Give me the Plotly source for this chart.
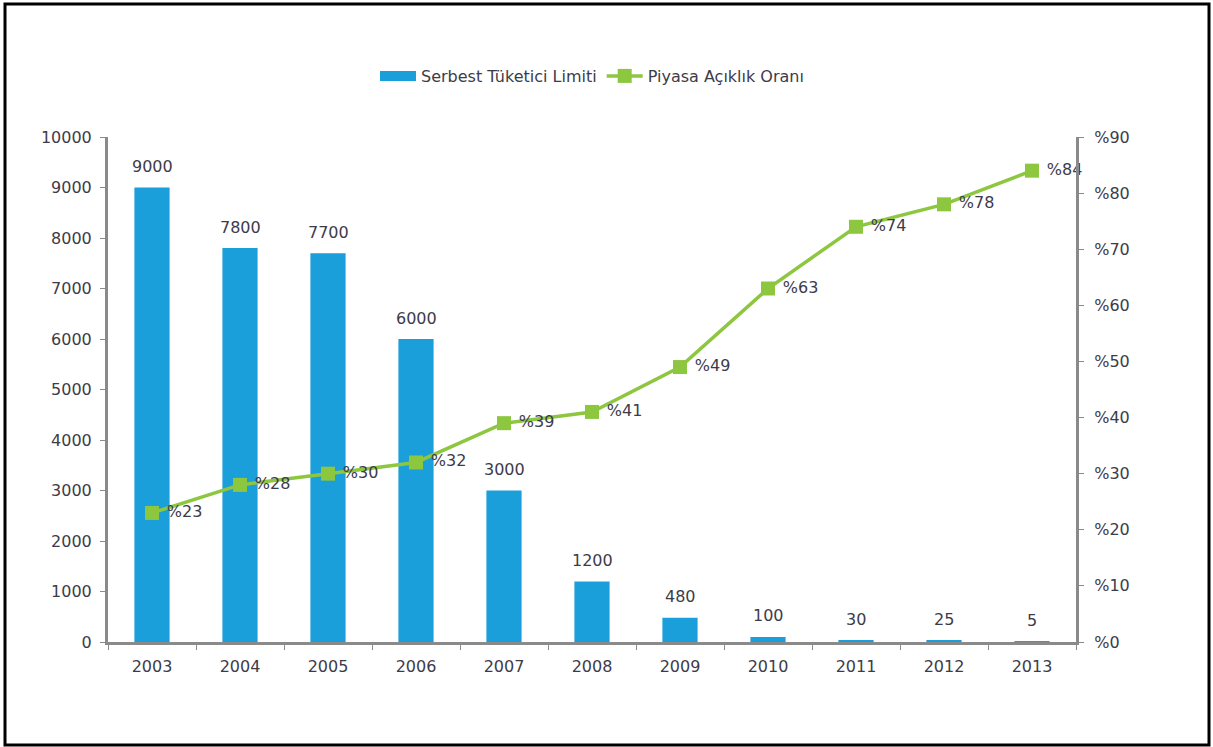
import plotly.graph_objects as go

years = ["2003", "2004", "2005", "2006", "2007", "2008", "2009", "2010", "2011", "2012", "2013"]
limit_values = [9000, 7800, 7700, 6000, 3000, 1200, 480, 100, 30, 25, 5]
openness_pct = [23, 28, 30, 32, 39, 41, 49, 63, 74, 78, 84]
bar_name = "Serbest Tüketici Limiti"
line_name = "Piyasa Açıklık Oranı"

FONT = "DejaVu Sans, Verdana, sans-serif"
TXT = "#3d3b4a"
AX = "#8a8a8a"
BLUE = "#1a9fda"
GREEN = "#8dc63f"
FS = 16

fig = go.Figure()
fig.add_trace(go.Bar(
    x=years, y=limit_values, name=bar_name, showlegend=False,
    marker=dict(color=BLUE, line=dict(width=0)),
    width=0.4,
))
# legend entry for bars drawn as a wide block like the reference
fig.add_trace(go.Scatter(
    x=[None], y=[None], name=bar_name, mode="lines",
    line=dict(color=BLUE, width=12),
))
fig.add_trace(go.Scatter(
    x=years, y=openness_pct, name=line_name, yaxis="y2",
    mode="lines+markers+text",
    line=dict(color=GREEN, width=3.5),
    marker=dict(symbol="square", size=14, color=GREEN),
    text=[f" %{v}" for v in openness_pct],
    textposition="middle right",
    cliponaxis=False,
    textfont=dict(family=FONT, size=FS, color=TXT),
))

for i, v in enumerate(limit_values):
    fig.add_annotation(x=i, xref="x", y=v, yref="y", text=str(v), showarrow=False,
                       yshift=21, font=dict(family=FONT, size=FS, color=TXT))

# outer frame
fig.add_shape(type="rect", xref="paper", yref="paper",
              x0=(5 - 108) / 968, x1=(1209 - 108) / 968,
              y0=(642 - 745) / 505, y1=(642 - 4) / 505,
              line=dict(color="black", width=3), fillcolor="rgba(0,0,0,0)", layer="below")

fig.update_layout(
    width=1213, height=747,
    margin=dict(l=108, r=137, t=137, b=105),
    paper_bgcolor="white", plot_bgcolor="white",
    font=dict(family=FONT, size=FS, color=TXT),
    showlegend=True,
    legend=dict(orientation="h", x=0.5, xanchor="center", y=(642 - 76) / 505, yanchor="middle",
                font=dict(family=FONT, size=16, color=TXT), itemwidth=36),
    xaxis=dict(type="category", range=[-0.5, len(years) - 0.5], showline=True, linecolor=AX, linewidth=3,
               ticks="outside", tickson="boundaries", ticklen=5, tickcolor=AX, tickwidth=1,
               ticklabelstandoff=8,
               showgrid=False, tickangle=0, tickfont=dict(family=FONT, size=FS, color=TXT)),
    yaxis=dict(range=[0, 10000], dtick=1000, tickformat="d", showline=True, linecolor=AX, linewidth=3,
               ticks="outside", ticklen=5, tickcolor=AX, showgrid=False, zeroline=False,
               ticklabelstandoff=5,
               tickfont=dict(family=FONT, size=FS, color=TXT)),
    yaxis2=dict(range=[0, 90], dtick=10, overlaying="y", side="right", tickprefix="%",
                showline=True, linecolor=AX, linewidth=3, ticks="outside", ticklen=5,
                tickcolor=AX, showgrid=False, zeroline=False, ticklabelstandoff=7,
                tickfont=dict(family=FONT, size=FS, color=TXT)),
)

fig.write_html("out.html")
